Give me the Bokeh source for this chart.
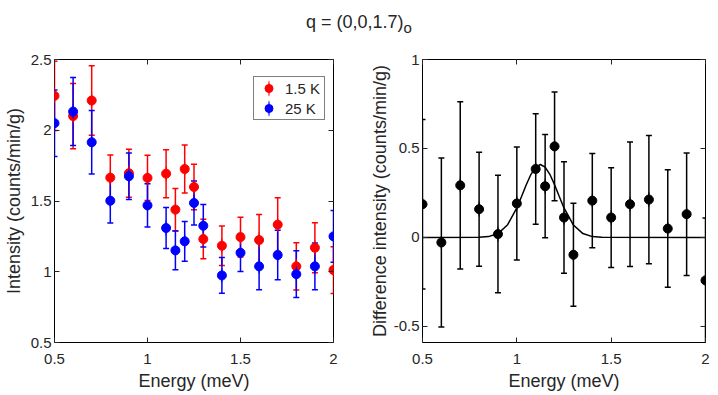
from bokeh.plotting import figure
from bokeh.models import (FixedTicker, LinearAxis, Whisker, TeeHead, ColumnDataSource,
                          Legend, LegendItem, Div, Range1d)
from bokeh.layouts import column, row
from bokeh.embed import file_html
from bokeh.resources import INLINE

# ---------------- data ----------------
energy = [0.5, 0.6, 0.7, 0.8, 0.9, 1.0, 1.1, 1.15, 1.2, 1.25, 1.3, 1.4, 1.5, 1.6, 1.7, 1.8, 1.9, 2.0]

int_15K = [2.243, 2.10, 2.21, 1.665, 1.696, 1.663, 1.693, 1.439, 1.726, 1.599, 1.231, 1.184,
           1.245, 1.224, 1.333, 1.038, 1.170, 1.012]
err_15K = [0.245, 0.23, 0.245, 0.16, 0.17, 0.16, 0.17, 0.15, 0.17, 0.16, 0.14, 0.14,
           0.14, 0.18, 0.19, 0.167, 0.177, 0.165]

int_25K = [2.05, 2.132, 1.915, 1.502, 1.675, 1.469, 1.309, 1.151, 1.215, 1.486, 1.325, 0.974,
           1.134, 1.038, 1.118, 0.983, 1.038, 1.25]
err_25K = [0.235, 0.24, 0.225, 0.157, 0.165, 0.153, 0.145, 0.137, 0.14, 0.155, 0.15, 0.126,
           0.133, 0.165, 0.175, 0.165, 0.165, 0.183]

diff_int = [0.187, -0.028, 0.293, 0.159, 0.019, 0.191, 0.385, 0.288, 0.512, 0.112, -0.097, 0.207,
            0.112, 0.187, 0.213, 0.05, 0.131, -0.241]
diff_err = [0.476, 0.475, 0.47, 0.32, 0.33, 0.317, 0.31, 0.29, 0.306, 0.313, 0.29, 0.265,
            0.28, 0.35, 0.36, 0.33, 0.344, 0.35]

fit_x = [0.5, 0.8, 0.85, 0.9, 0.95, 1.0, 1.025, 1.05, 1.075, 1.1, 1.125, 1.15, 1.175, 1.2,
         1.225, 1.25, 1.3, 1.35, 1.4, 1.45, 2.0]
fit_y = [0.0, 0.001, 0.005, 0.022, 0.070, 0.166, 0.230, 0.296, 0.355, 0.395, 0.41, 0.395,
         0.355, 0.296, 0.230, 0.166, 0.070, 0.022, 0.005, 0.001, 0.0]

x_ticks = [0.5, 1.0, 1.5, 2.0]
x_tick_labels = ["0.5", "1", "1.5", "2"]
left_y_ticks = [0.5, 1.0, 1.5, 2.0, 2.5]
left_y_tick_labels = ["0.5", "1", "1.5", "2", "2.5"]
right_y_ticks = [-0.5, 0.0, 0.5, 1.0]
right_y_tick_labels = ["-0.5", "0", "0.5", "1"]

series_labels = ["1.5 K", "25 K"]
title_text = "q = (0,0,1.7)<sub>o</sub>"

FONT = "Liberation Sans"
TXT = "#262626"
RED = "#ff0000"
BLUE = "#0000ff"


def make_fig(width, left, right, xr, yr, xlabel, ylabel, yticks, ylabels, ylab_standoff):
    p = figure(width=width, height=347, output_backend="svg", toolbar_location=None,
               x_range=Range1d(*xr), y_range=Range1d(*yr),
               min_border_left=left, min_border_right=right,
               min_border_top=11, min_border_bottom=53,
               x_axis_label=xlabel, y_axis_label=ylabel)
    p.background_fill_color = "white"
    p.border_fill_color = "white"
    p.outline_line_color = "black"
    p.outline_line_width = 1
    p.xgrid.visible = False
    p.ygrid.visible = False
    for ax, ticks, labels in ((p.xaxis[0], x_ticks, x_tick_labels), (p.yaxis[0], yticks, ylabels)):
        ax.ticker = FixedTicker(ticks=ticks)
        ax.major_label_overrides = {t: l for t, l in zip(ticks, labels)}
        ax.major_tick_in = 5
        ax.major_tick_out = 0
        ax.minor_tick_line_color = None
        ax.axis_line_color = None
        ax.major_tick_line_color = TXT
        ax.major_label_text_font = FONT
        ax.major_label_text_font_size = "15px"
        ax.major_label_text_color = TXT
        ax.axis_label_text_font = FONT
        ax.axis_label_text_font_size = "18px"
        ax.axis_label_text_font_style = "normal"
        ax.axis_label_text_color = TXT
    p.xaxis.major_label_standoff = 11
    p.xaxis.axis_label_standoff = 4
    p.yaxis.major_label_standoff = 3
    p.yaxis.axis_label_standoff = ylab_standoff
    for loc, ticks in (("above", x_ticks), ("right", yticks)):
        m = LinearAxis(ticker=FixedTicker(ticks=ticks),
                       major_label_overrides={t: "" for t in ticks},
                       major_label_text_color=None,
                       major_label_standoff=0, major_tick_in=5, major_tick_out=0,
                       minor_tick_line_color=None, axis_line_color=None,
                       major_tick_line_color=TXT)
        p.add_layout(m, loc)
    return p


def add_errorbars(p, x, y, e, color):
    src = ColumnDataSource(dict(x=x, y=y,
                                lower=[a - b for a, b in zip(y, e)],
                                upper=[a + b for a, b in zip(y, e)]))
    w = Whisker(base="x", lower="lower", upper="upper", source=src, dimension="height",
                line_color=color, line_width=1.5,
                lower_head=TeeHead(size=6, line_color=color, line_width=1.5),
                upper_head=TeeHead(size=6, line_color=color, line_width=1.5))
    p.add_layout(w)
    # thin vertical sliver lying along each error bar: gives the legend its error-bar glyph
    bar = p.ellipse("x", "y", source=src, width=1.6, height=16,
                    width_units="screen", height_units="screen",
                    fill_color=color, line_color=None)
    r = p.scatter("x", "y", source=src, size=9, marker="circle",
                  fill_color=color, line_color=color)
    return bar, r


# ---------------- left panel ----------------
p1 = make_fig(362, 51, 29, (0.5, 2.0), (0.5, 2.5), "Energy (meV)",
              "Intensity (counts/min/g)", left_y_ticks, left_y_tick_labels, 4)
bar_red, r_red = add_errorbars(p1, energy, int_15K, err_15K, RED)
bar_blue, r_blue = add_errorbars(p1, energy, int_25K, err_25K, BLUE)

legend = Legend(items=[LegendItem(label=series_labels[0], renderers=[bar_red, r_red]),
                       LegendItem(label=series_labels[1], renderers=[bar_blue, r_blue])],
                location=(199, 222), padding=1, spacing=0, margin=0,
                glyph_width=27, glyph_height=20, label_height=20, label_width=38,
                label_standoff=3, label_text_font=FONT, label_text_font_size="15px",
                label_text_color=TXT, border_line_color="black", border_line_width=1,
                background_fill_color="white", background_fill_alpha=1)
p1.add_layout(legend)

# ---------------- right panel ----------------
p2 = make_fig(356, 60, 13, (0.5, 2.0), (-0.59, 1.0), "Energy (meV)",
              "Difference intensity (counts/min/g)", right_y_ticks, right_y_tick_labels, 1)
p2.line(fit_x, fit_y, line_color="black", line_width=1.5)
add_errorbars(p2, energy, diff_int, diff_err, "black")

title = Div(text=title_text, width=718, height=38, margin=(10, 0, 0, 0),
            styles={"text-align": "center", "font-family": FONT, "font-size": "18px",
                    "color": TXT, "width": "718px"})

layout = column(title, row(p1, p2, spacing=0), spacing=0)

open("out.html", "w").write(file_html(layout, INLINE))
